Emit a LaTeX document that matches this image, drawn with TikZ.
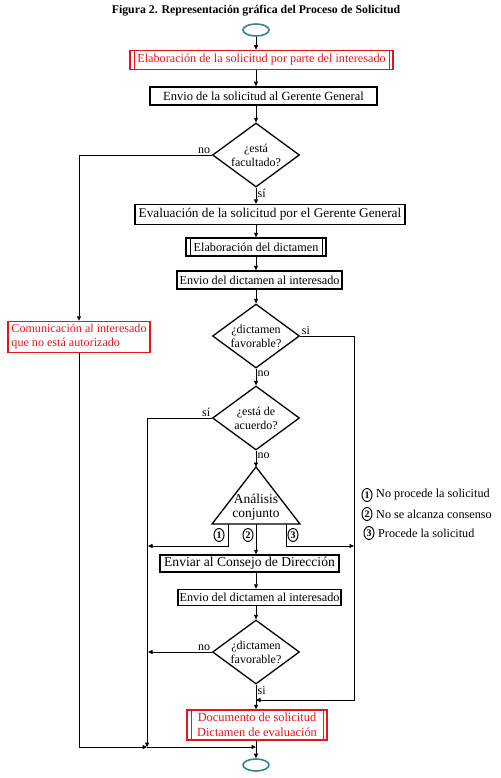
\documentclass[tikz,border=0pt]{standalone}
\usepackage{fontspec}
\setmainfont{Liberation Serif}
\usetikzlibrary{arrows.meta,shapes.geometric}
\definecolor{Flujo}{HTML}{E8141C}
\definecolor{Borde}{HTML}{2A8A84}
\newcommand{\tam}[2]{\fontsize{#1}{#2}\selectfont}

\begin{document}
\begin{tikzpicture}[x=1pt,y=-1pt,
    proc/.style={draw,line width=1.5pt,minimum height=18pt,inner sep=1pt,font=\tam{12.5}{14}},
    predef/.style={proc,path picture={
        \draw[#1,line width=1pt]
          ([xshift=4pt]path picture bounding box.south west) -- ([xshift=4pt]path picture bounding box.north west)
          ([xshift=-4pt]path picture bounding box.south east) -- ([xshift=-4pt]path picture bounding box.north east);}},
    predef/.default=black,
    rojo/.style={draw=Flujo,text=Flujo},
    deci/.style={diamond,draw,line width=1.3pt,minimum width=87pt,minimum height=64pt,aspect=1.36,
      inner sep=0pt,align=center,font=\tam{12}{14}},
    term/.style={ellipse,draw=Borde,line width=1.6pt,minimum width=26pt,minimum height=12pt,inner sep=0pt},
    cnum/.style={ellipse,draw,line width=1pt,minimum width=10pt,minimum height=13pt,
      inner sep=0pt,font=\tam{10}{11}\bfseries},
    lbl/.style={font=\tam{12}{13},inner sep=1.5pt},
    leyenda/.style={anchor=west,font=\tam{12.2}{13},inner sep=0pt},
    flecha/.style={-{Triangle[length=4.5pt,width=4pt]},line width=0.8pt}]
  \useasboundingbox (0,0) rectangle (500,778);

  \node[font=\tam{11.8}{13}\bfseries] (titulo) at (256,11)
    {Figura 2. Representación gráfica del Proceso de Solicitud};

  % flujo principal
  \node[term] (inicio) at (256,30) {};
  \node[predef=Flujo,rojo,minimum width=263pt,minimum height=19pt,font=\tam{12.2}{14}] (elab) at (261.5,60)
    {Elaboración de la solicitud por parte del interesado};
  \node[proc,minimum width=227pt] (envio) at (263.5,96) {Envio de la solicitud al Gerente General};
  \node[deci] (facult) at (256,155) {¿está\\facultado?};
  \node[proc,minimum width=270pt,minimum height=20pt,font=\tam{13.3}{15}] (evalua) at (270,214.5)
    {Evaluación de la solicitud por el Gerente General};
  \node[predef,minimum width=140pt,font=\tam{12.2}{14}] (dictam) at (256,247) {Elaboración del dictamen};
  \node[proc,minimum width=165pt,font=\tam{12.2}{14}] (envdic) at (259.5,280) {Envio del dictamen al interesado};
  \node[deci] (favor) at (256,336) {¿dictamen\\favorable?};
  \node[deci] (acuerdo) at (256,418) {¿está de\\acuerdo?};

  \node[draw=Flujo,line width=1.5pt,text=Flujo,minimum width=142pt,minimum height=31pt,inner sep=1pt,
    align=left,font=\tam{12.1}{14}] (comun) at (79,337)
    {Comunicación al interesado\\que no está autorizado};

  % analisis conjunto
  \coordinate (apice) at (256,467);
  \coordinate (basei) at (212,524);
  \coordinate (based) at (300,524);
  \draw[line width=1.3pt] (apice) -- (basei) -- (based) -- cycle;
  \node[align=center,font=\tam{13.5}{14.5},inner sep=0pt] (analisis) at (256,507) {Análisis\\conjunto};
  \coordinate (tab1) at (228,524);
  \coordinate (tab2) at (256,524);
  \coordinate (tab3) at (286,524);
  \node[cnum] (n1) at (219,535) {1};
  \node[cnum] (n2) at (248,535) {2};
  \node[cnum] (n3) at (293,535) {3};

  \node[proc,minimum width=179pt,minimum height=17pt,font=\tam{13.6}{15}] (consejo) at (249.5,563.5)
    {Enviar al Consejo de Dirección};
  \node[proc,minimum width=163pt,minimum height=16pt,font=\tam{12.2}{14}] (envdic2) at (259.5,597.5)
    {Envio del dictamen al interesado};
  \node[deci] (favor2) at (256,652) {¿dictamen\\favorable?};
  \node[predef=Flujo,rojo,minimum width=140pt,minimum height=30pt,align=center,font=\tam{12.4}{15}] (docs)
    at (257,725) {Documento de solicitud\\Dictamen de evaluación};
  \node[term] (fin) at (256,765) {};

  % leyenda
  \node[cnum] (c1) at (367,495) {1};
  \node[leyenda] (t1) at (376,495) {No procede la solicitud};
  \node[cnum] (c2) at (367,514) {2};
  \node[leyenda] (t2) at (376,514) {No se alcanza consenso};
  \node[cnum] (c3) at (369,533) {3};
  \node[leyenda] (t3) at (378,533) {Procede la solicitud};

  % uniones
  \coordinate (jder) at (256,700);
  \coordinate (jizq) at (147,747);
  \coordinate (jbaj) at (256,747);

  % conectores
  \draw[flecha] (inicio.south) -- (inicio.south |- elab.north);
  \draw[flecha] (inicio.south |- elab.south) -- (inicio.south |- envio.north);
  \draw[flecha] (inicio.south |- envio.south) -- (facult.north);
  \draw[flecha] (facult.west) -| (comun.north);
  \draw[flecha] (facult.south) -- (facult.south |- evalua.north);
  \draw[flecha] (facult.south |- evalua.south) -- (dictam.north);
  \draw[flecha] (dictam.south) -- (dictam.south |- envdic.north);
  \draw[flecha] (dictam.south |- envdic.south) -- (favor.north);
  \draw[flecha] (favor.south) -- (acuerdo.north);
  \draw[flecha] (acuerdo.south) -- (apice);
  \draw[flecha] (favor.east) -- (354,336) |- (jder);
  \draw[flecha] (acuerdo.west) -| (jizq);
  \draw[flecha] (tab1) |- (148,546);
  \draw[flecha] (tab3) |- (354,546);
  \draw[flecha] (tab2) -- (tab2 |- consejo.north);
  \draw[flecha] (tab2 |- consejo.south) -- (tab2 |- envdic2.north);
  \draw[flecha] (tab2 |- envdic2.south) -- (favor2.north);
  \draw[flecha] (favor2.west) -- (148,652);
  \draw[flecha] (favor2.south) -- (favor2.south |- docs.north);
  \draw[flecha] (comun.south) |- (jizq);
  \draw[flecha] (jizq) -- (jbaj);
  \draw[flecha] (favor2.south |- docs.south) -- (fin.north);

  % etiquetas
  \node[lbl,above left] (l1) at (facult.west) {no};
  \node[lbl,anchor=north west] (l2) at (facult.south) {sí};
  \node[lbl,above right] (l3) at (favor.east) {si};
  \node[lbl,anchor=north west] (l4) at (favor.south) {no};
  \node[lbl,above left] (l5) at (acuerdo.west) {sí};
  \node[lbl,anchor=north west] (l6) at (acuerdo.south) {no};
  \node[lbl,above left] (l7) at (favor2.west) {no};
  \node[lbl,anchor=north west] (l8) at (favor2.south) {si};
\end{tikzpicture}
\end{document}
